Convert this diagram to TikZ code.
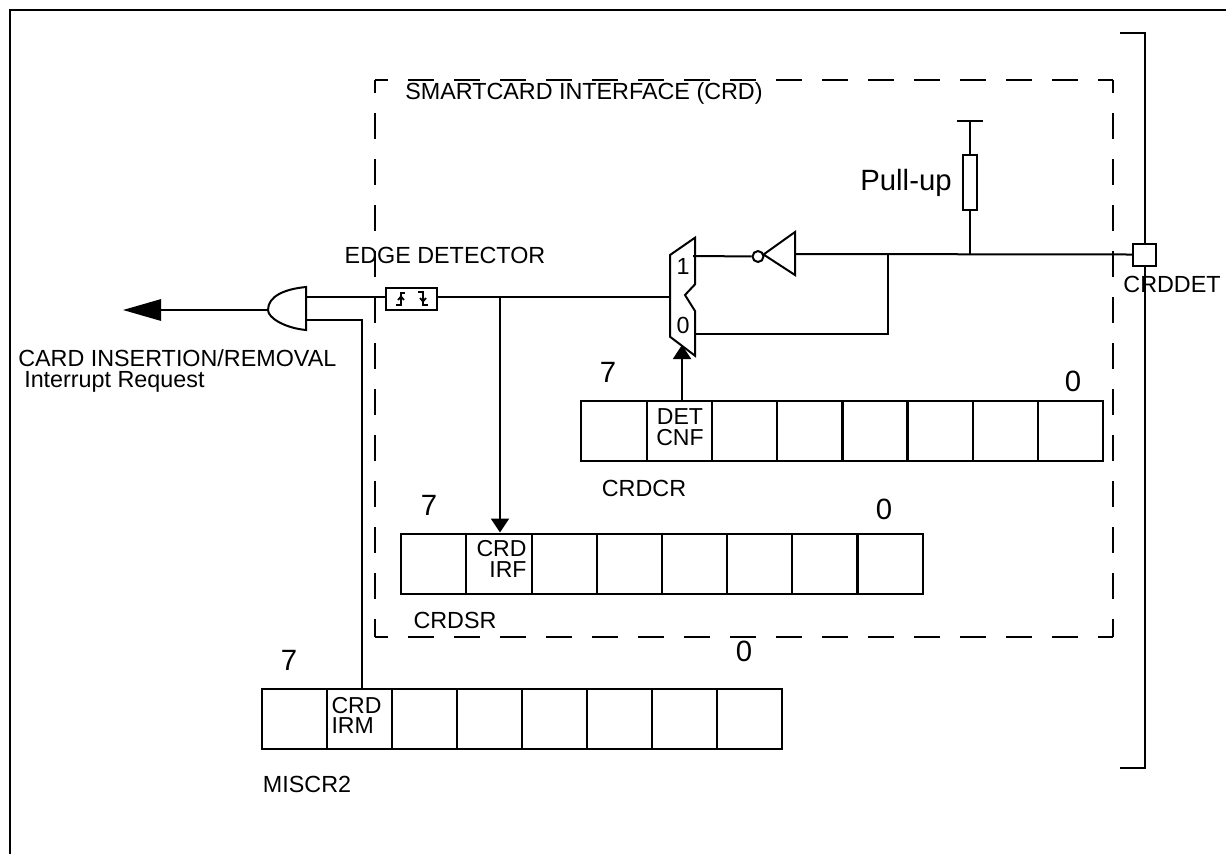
\documentclass[tikz,border=0pt]{standalone}
\usepackage{fontspec}
\setmainfont{Liberation Sans}
\usetikzlibrary{arrows.meta}

\tikzset{
  wire/.style={line width=1.5pt},
  dashframe/.style={line width=1.5pt, dash pattern=on 19.5pt off 15pt, dash phase=9.75pt},
  regcell/.style={draw, line width=1.5pt, minimum width=48.9pt, minimum height=45pt, inner sep=0pt},
  celltxt/.style={inner sep=0pt, font=\fontsize{17.3}{15.5}\selectfont},
  lbl/.style={inner sep=0pt, font=\fontsize{17.5}{20}\selectfont},
  biglbl/.style={inner sep=0pt, font=\fontsize{22}{26}\selectfont},
  headsmall/.style={-{Triangle[width=13.5pt,length=10.5pt]}},
  headbig/.style={-{Triangle[width=16pt,length=28.5pt]}}
}

\begin{document}
\begin{tikzpicture}[x=0.75pt, y=-0.75pt]
  \useasboundingbox (0,0) rectangle (1226,854);

  % Outer frame and bracket
  \draw[wire] (1226,10) -- (10.3,10) -- (10.3,854);
  \draw[wire] (1120,32.5) -- (1145,32.5) -- (1145,768) -- (1120,768);

  % Dashed block
  \coordinate (TL) at (375,80); \coordinate (TR) at (1113,80);
  \coordinate (BL) at (375,637); \coordinate (BR) at (1113,637);
  \draw[dashframe] (TL) -- (TR);
  \draw[dashframe] (TL) -- (BL);
  \draw[dashframe] (BL) -- (BR);
  \draw[dashframe] (TR) -- (BR);

  % Register CRDCR
  \node[regcell] (cr7) at (614,431) {}; \node[regcell] (cr6) at (679.5,431) {};
  \node[regcell] (cr5) at (744.5,431) {}; \node[regcell] (cr4) at (810,431) {};
  \node[regcell] (cr3) at (875,431) {}; \node[regcell] (cr2) at (940,431) {};
  \node[regcell] (cr1) at (1005.5,431) {}; \node[regcell] (cr0) at (1070.5,431) {};
  \node[celltxt, align=center] (detcnf) at (680,427) {DET\\CNF};

  % Register CRDSR
  \node[regcell] (sr7) at (433.5,563.5) {}; \node[regcell] (sr6) at (499,563.5) {};
  \node[regcell] (sr5) at (564.5,563.5) {}; \node[regcell] (sr4) at (629.5,563.5) {};
  \node[regcell] (sr3) at (694.5,563.5) {}; \node[regcell] (sr2) at (759.5,563.5) {};
  \node[regcell] (sr1) at (825,563.5) {}; \node[regcell] (sr0) at (890,563.5) {};
  \node[celltxt, align=right] (crdirf) at (501.5,559) {CRD\\IRF};

  % Register MISCR2
  \node[regcell] (mi7) at (294.5,718.5) {}; \node[regcell] (mi6) at (359.5,718.5) {};
  \node[regcell] (mi5) at (424.5,718.5) {}; \node[regcell] (mi4) at (489.5,718.5) {};
  \node[regcell] (mi3) at (554.5,718.5) {}; \node[regcell] (mi2) at (619.5,718.5) {};
  \node[regcell] (mi1) at (684.5,718.5) {}; \node[regcell] (mi0) at (749.5,718.5) {};
  \node[celltxt, align=left] (crdirm) at (356.5,715.5) {CRD\\IRM};

  % Pad, pull-up and inverter
  \node[draw, wire, fill=white, minimum width=17.5pt, minimum height=16.5pt, inner sep=0pt] (pad) at (1144.7,254.5) {};
  \node[draw, wire, minimum width=10.5pt, minimum height=41pt, inner sep=0pt] (pullres) at (970,182.5) {};
  \coordinate (pulltop) at (970,121);
  \coordinate (pulljoin) at (970,254);
  \coordinate (invjoin) at (888,254);
  \coordinate (invin) at (795,254);
  \draw[wire] (957,121) -- (983,121);
  \draw[wire] (pulljoin) -- (pullres);
  \draw[wire] (pullres) -- (pulltop);
  \draw[wire] (795,232) -- (763.5,254.5) -- (795,275) -- cycle;
  \node[draw, wire, circle, minimum size=8.2pt, inner sep=0pt] (bubble) at (758,256.5) {};

  % Multiplexer
  \draw[wire] (670,255) -- (695,237.7) -- (695,284.3) -- (685,295) -- (695,311)
    -- (695,355.7) -- (670,336.7) -- cycle;
  \node[lbl] (mux1) at (683,266) {1};
  \node[lbl] (mux0) at (683,325) {0};
  \coordinate (muxin1) at (693,256);
  \coordinate (muxin0) at (695,334);
  \coordinate (muxout) at (670,297);
  \coordinate (muxsel) at (682,345);

  % AND gate
  \draw[wire] (306,287) .. controls (285,289) and (268,296) .. (268,310)
    .. controls (268,318) and (285,328) .. (306,330) -- cycle;
  \coordinate (gateout) at (268,310);
  \coordinate (gatein1) at (306,297);
  \coordinate (gatein2) at (306,320);
  \coordinate (irqend) at (123,310);
  \coordinate (irmbend) at (362,320);

  % Edge detector
  \node[draw, wire, minimum width=38.2pt, minimum height=16.5pt, inner sep=0pt] (edge) at (411.5,299) {};
  \draw[line width=1.3pt] (396,305) -- (401,305) -- (401,293) -- (405,293);
  \draw[line width=1.3pt] (398,300) -- (401,296.5) -- (404,300);
  \draw[line width=1.3pt] (418,292) -- (423,292) -- (423,305) -- (428,305);
  \draw[line width=1.3pt] (420,298) -- (423,301.5) -- (426,298);

  % Wires
  \coordinate (irfjoin) at (500,297);
  \draw[wire] (pad.west) -- (invin);
  \draw[wire] (invjoin) |- (muxin0);
  \draw[wire] (muxin1) -- (bubble);
  \draw[wire] (gatein1) -- (edge.west |- gatein1);
  \draw[wire] (edge.east |- gatein1) -- (muxout);
  \draw[wire] (gatein2) -- (irmbend) -- (mi6.north -| irmbend);
  \draw[wire, headsmall] (irfjoin) -- (sr6.north -| irfjoin);
  \draw[wire, headsmall] (cr6.north -| muxsel) -- (muxsel);
  \draw[wire, headbig] (gateout) -- (irqend);

  % Labels
  \node[lbl, anchor=west] (smart) at (405,93.5) {SMARTCARD INTERFACE (CRD)};
  \node[lbl] (edgelbl) at (445,255) {EDGE DETECTOR};
  \node[lbl, anchor=west] (cardlbl) at (18,358) {CARD INSERTION/REMOVAL};
  \node[lbl, anchor=west] (irqlbl) at (24,382) {Interrupt Request};
  \node[lbl] (padlbl) at (1172,284) {CRDDET};
  \node[biglbl] (pulllbl) at (906,183) {Pull-up};
  \node[lbl] (crname) at (644,488) {CRDCR};
  \node[lbl] (srname) at (455,620) {CRDSR};
  \node[lbl] (miname) at (307,784) {MISCR2};

  % Bit numbers
  \node[biglbl] (cr7no) at (608,372) {7}; \node[biglbl] (cr0no) at (1073,381) {0};
  \node[biglbl] (sr7no) at (429,505) {7}; \node[biglbl] (sr0no) at (884,509) {0};
  \node[biglbl] (mi7no) at (289,660) {7}; \node[biglbl] (mi0no) at (744,651) {0};
\end{tikzpicture}
\end{document}
